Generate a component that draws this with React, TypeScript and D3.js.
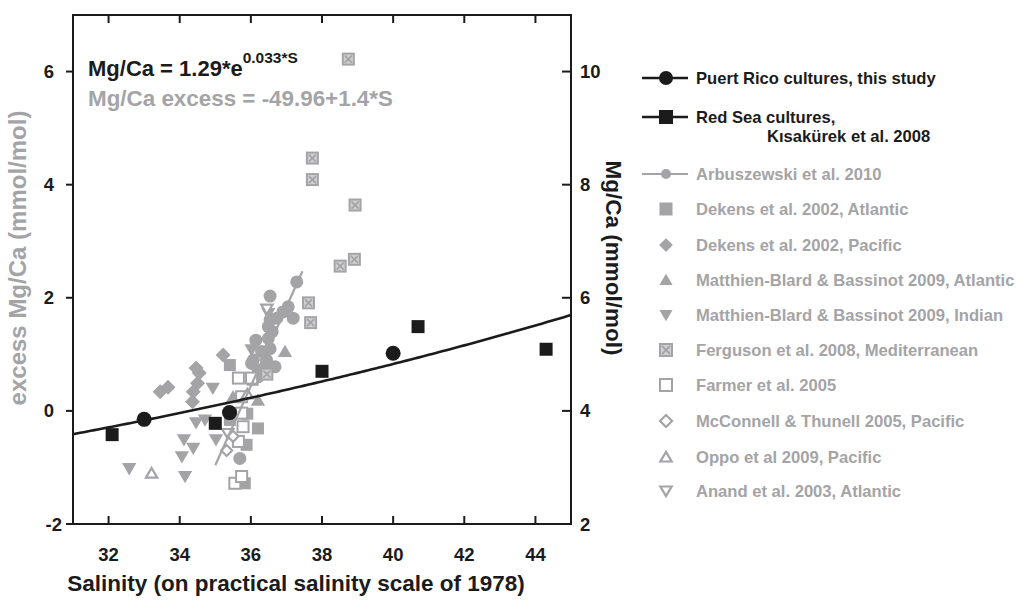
import React from "react";
import * as d3 from "d3";

// ---------- data ----------
const xTicks = [32, 34, 36, 38, 40, 42, 44];
const leftTicks = [-2, 0, 2, 4, 6];
const rightTicks = [2, 4, 6, 8, 10];

// [salinity, excess Mg/Ca]
const puertoRico: [number, number][] = [[33.0, -0.15], [35.4, -0.03], [40.0, 1.02]];
const redSea: [number, number][] = [[32.1, -0.42], [35.0, -0.22], [38.0, 0.7], [40.7, 1.49], [44.3, 1.09]];
const arbuszewski: [number, number][] = [
  [36.54, 2.03], [37.29, 2.28], [37.05, 1.84], [37.19, 1.64], [36.54, 1.61], [36.73, 1.64],
  [36.49, 1.49], [36.14, 1.25], [36.49, 1.28], [36.54, 1.1], [36.07, 0.9], [36.44, 0.9],
  [36.68, 0.78], [35.69, -0.84], [36.3, 1.05], [36.9, 1.75], [36.6, 1.4], [36.2, 0.6],
  [36.35, 0.75], [36.02, 0.84], [36.21, 0.72],
];
const dekensAtl: [number, number][] = [
  [35.41, 0.81], [36.2, -0.31], [35.88, -0.6], [35.83, -1.28], [35.41, -0.16], [36.05, 0.55], [35.9, -0.05],
];
const dekensPac: [number, number][] = [
  [33.45, 0.34], [33.67, 0.42], [34.46, 0.76], [34.55, 0.67], [34.5, 0.49], [34.38, 0.34], [34.36, 0.16], [35.22, 0.99],
];
const matthienAtl: [number, number][] = [[36.96, 1.05], [36.2, 0.19], [35.5, 0.25]];
const matthienInd: [number, number][] = [
  [34.93, 0.4], [34.46, -0.21], [34.71, -0.16], [34.12, -0.51], [34.38, -0.66], [34.06, -0.81],
  [32.58, -1.02], [34.15, -1.16], [35.02, -0.51], [36.49, 1.72], [36.02, 1.08],
];
const ferguson: [number, number][] = [
  [38.74, 6.22], [37.73, 4.47], [37.73, 4.09], [38.93, 3.64], [38.51, 2.56], [38.91, 2.68],
  [37.62, 1.91], [37.68, 1.56], [36.45, 0.65],
];
const farmer: [number, number][] = [
  [35.65, 0.58], [35.74, 0.25], [35.74, -0.04], [35.78, -0.28], [35.65, -0.54], [35.55, -1.28], [35.74, -1.16], [36.02, 0.58],
];
const mcconnell: [number, number][] = [[35.32, -0.7], [35.5, -0.45]];
const oppo: [number, number][] = [[33.21, -1.1], [35.9, 0.3]];
const anand: [number, number][] = [[36.45, 1.8], [35.35, -0.4]];

const legendLabels = [
  "Puert Rico cultures, this study",
  "Red Sea cultures,",
  "Arbuszewski et al. 2010",
  "Dekens et al. 2002, Atlantic",
  "Dekens et al. 2002, Pacific",
  "Matthien-Blard & Bassinot 2009, Atlantic",
  "Matthien-Blard & Bassinot 2009, Indian",
  "Ferguson et al. 2008, Mediterranean",
  "Farmer et al. 2005",
  "McConnell & Thunell 2005, Pacific",
  "Oppo et al 2009, Pacific",
  "Anand et al. 2003, Atlantic",
];

// fit parameters
const expA = 1.29;
const expB = 0.033;
const linA = -49.96;
const linB = 1.4;
const linRange = [35.0, 37.45];

// ---------- styling ----------
const GREY = "#a4a4a7";
const BLACK = "#1b1b1b";
const FONT = "'Liberation Sans', Arial, Helvetica, sans-serif";

type Shape = "circle" | "square" | "diamond" | "triUp" | "triDown" | "boxX" | "oSquare" | "oDiamond" | "oTriUp" | "oTriDown";

function Marker({ cx, cy, shape, color, size }: { cx: number; cy: number; shape: Shape; color: string; size: number }) {
  const h = size / 2;
  switch (shape) {
    case "circle":
      return <circle cx={cx} cy={cy} r={h} fill={color} />;
    case "square":
      return <rect x={cx - h} y={cy - h} width={size} height={size} fill={color} />;
    case "diamond": {
      const d = h * 1.25;
      return <path d={`M${cx},${cy - d}L${cx + d},${cy}L${cx},${cy + d}L${cx - d},${cy}Z`} fill={color} />;
    }
    case "triUp":
      return <path d={`M${cx},${cy - h * 1.05}L${cx + h * 1.1},${cy + h * 0.85}L${cx - h * 1.1},${cy + h * 0.85}Z`} fill={color} />;
    case "triDown":
      return <path d={`M${cx},${cy + h * 1.05}L${cx + h * 1.1},${cy - h * 0.85}L${cx - h * 1.1},${cy - h * 0.85}Z`} fill={color} />;
    case "boxX": {
      const s = h - 1;
      return (
        <g>
          <rect x={cx - s} y={cy - s} width={2 * s} height={2 * s} fill="#cfcfd1" stroke={color} strokeWidth={2} />
          <path d={`M${cx - s + 2},${cy - s + 2}L${cx + s - 2},${cy + s - 2}M${cx + s - 2},${cy - s + 2}L${cx - s + 2},${cy + s - 2}`} stroke={color} strokeWidth={1.8} />
        </g>
      );
    }
    case "oSquare": {
      const s = h - 1;
      return <rect x={cx - s} y={cy - s} width={2 * s} height={2 * s} fill="white" stroke={color} strokeWidth={2} />;
    }
    case "oDiamond": {
      const d = h * 1.1;
      return <path d={`M${cx},${cy - d}L${cx + d},${cy}L${cx},${cy + d}L${cx - d},${cy}Z`} fill="white" stroke={color} strokeWidth={2.2} />;
    }
    case "oTriUp":
      return <path d={`M${cx},${cy - h * 0.85}L${cx + h * 0.95},${cy + h * 0.75}L${cx - h * 0.95},${cy + h * 0.75}Z`} fill="white" stroke={color} strokeWidth={2.2} />;
    case "oTriDown":
      return <path d={`M${cx},${cy + h * 0.85}L${cx + h * 0.95},${cy - h * 0.75}L${cx - h * 0.95},${cy - h * 0.75}Z`} fill="white" stroke={color} strokeWidth={2.2} />;
  }
  return null;
}

export default function App() {
  const W = 1022, H = 600;
  const x = d3.scaleLinear().domain([31, 45]).range([73, 571]);
  const yL = d3.scaleLinear().domain([-2, 7]).range([524, 15]);
  const yR = d3.scaleLinear().domain([2, 11]).range([524, 15]);
  const [x0, x1] = x.range();
  const [yb, yt] = yL.range();

  const curveS = d3.range(31, 45.001, 0.1);
  const curve = d3.line<number>().x((s) => x(s)).y((s) => yR(expA * Math.exp(expB * s)))(curveS) || "";
  const linLine = d3.line<number>().x((s) => x(s)).y((s) => yL(linA + linB * s))(linRange) || "";

  const series: { data: [number, number][]; shape: Shape; size: number }[] = [
    { data: dekensPac, shape: "diamond", size: 12 },
    { data: matthienInd, shape: "triDown", size: 13 },
    { data: dekensAtl, shape: "square", size: 12 },
    { data: arbuszewski, shape: "circle", size: 13 },
    { data: matthienAtl, shape: "triUp", size: 13 },
    { data: anand, shape: "oTriDown", size: 12 },
    { data: farmer, shape: "oSquare", size: 13 },
    { data: mcconnell, shape: "oDiamond", size: 10 },
    { data: oppo, shape: "oTriUp", size: 12 },
    { data: ferguson, shape: "boxX", size: 13 },
  ];

  const legendShapes: { shape: Shape; color: string; line: boolean; size: number }[] = [
    { shape: "circle", color: BLACK, line: true, size: 14 },
    { shape: "square", color: BLACK, line: true, size: 14 },
    { shape: "circle", color: GREY, line: true, size: 10 },
    { shape: "square", color: GREY, line: false, size: 13 },
    { shape: "diamond", color: GREY, line: false, size: 11 },
    { shape: "triUp", color: GREY, line: false, size: 12 },
    { shape: "triDown", color: GREY, line: false, size: 12 },
    { shape: "boxX", color: GREY, line: false, size: 14 },
    { shape: "oSquare", color: GREY, line: false, size: 14 },
    { shape: "oDiamond", color: GREY, line: false, size: 11 },
    { shape: "oTriUp", color: GREY, line: false, size: 12 },
    { shape: "oTriDown", color: GREY, line: false, size: 12 },
  ];
  const legendY = [78, 117, 174, 209, 245, 280, 315, 350, 385, 421, 457, 491];

  return (
    <svg width={W} height={H} style={{ position: "absolute", left: 0, top: 0, background: "white" }} fontFamily={FONT}>
      {/* grey data */}
      {series.map((s, i) => (
        <g key={i}>
          {s.data.map((d, j) => (
            <Marker key={j} cx={x(d[0])} cy={yL(d[1])} shape={s.shape} color={GREY} size={s.size} />
          ))}
        </g>
      ))}
      <path d={linLine} stroke={GREY} strokeWidth={2.2} fill="none" />
      <path d={curve} stroke={BLACK} strokeWidth={2.6} fill="none" />
      {redSea.map((d, j) => (
        <Marker key={"r" + j} cx={x(d[0])} cy={yL(d[1])} shape="square" color={BLACK} size={13} />
      ))}
      {puertoRico.map((d, j) => (
        <Marker key={"p" + j} cx={x(d[0])} cy={yL(d[1])} shape="circle" color={BLACK} size={15} />
      ))}

      {/* frame */}
      <rect x={x0} y={yt} width={x1 - x0} height={yb - yt} fill="none" stroke={BLACK} strokeWidth={2} />
      {xTicks.map((t) => (
        <g key={"xt" + t}>
          <line x1={x(t)} x2={x(t)} y1={yb} y2={yb - 8} stroke={BLACK} strokeWidth={2} />
          <line x1={x(t)} x2={x(t)} y1={yt} y2={yt + 8} stroke={BLACK} strokeWidth={2} />
          <text x={x(t)} y={yb + 37} textAnchor="middle" fontSize={18.5} fontWeight="bold" fill={BLACK}>{t}</text>
        </g>
      ))}
      {leftTicks.map((t) => (
        <g key={"yl" + t}>
          <line x1={x0 - 7} x2={x0} y1={yL(t)} y2={yL(t)} stroke={BLACK} strokeWidth={2} />
          <text x={t === -2 ? x0 - 11 : x0 - 19} y={yL(t) + 6.5} textAnchor="end" fontSize={18.5} fontWeight="bold" fill={BLACK}>{t}</text>
        </g>
      ))}
      {rightTicks.map((t) => (
        <g key={"yr" + t}>
          <line x1={x1 - 9} x2={x1} y1={yR(t)} y2={yR(t)} stroke={BLACK} strokeWidth={2} />
          <text x={x1 + 9} y={yR(t) + 6.5} textAnchor="start" fontSize={18.5} fontWeight="bold" fill={BLACK}>{t}</text>
        </g>
      ))}

      {/* axis titles */}
      <text x={296} y={591} textAnchor="middle" fontSize={22.5} fontWeight="bold" fill={BLACK}>
        Salinity (on practical salinity scale of 1978)
      </text>
      <text transform={`translate(26,258) rotate(-90)`} textAnchor="middle" fontSize={24} fill={GREY} fontWeight="bold">
        excess Mg/Ca (mmol/mol)
      </text>
      <text transform={`translate(606,258) rotate(90)`} textAnchor="middle" fontSize={22.5} fontWeight="bold" fill={BLACK}>
        Mg/Ca (mmol/mol)
      </text>

      {/* equations */}
      <text x={88} y={76} fontSize={22} fontWeight="bold" fill={BLACK}>
        Mg/Ca = 1.29*e
        <tspan dy={-13} fontSize={15.5}>0.033*S</tspan>
      </text>
      <text x={88} y={106} fontSize={22.4} fontWeight="bold" fill={GREY}>
        Mg/Ca excess = -49.96+1.4*S
      </text>

      {/* legend */}
      {legendShapes.map((l, i) => (
        <g key={"lg" + i}>
          {l.line && <line x1={642} x2={688} y1={legendY[i]} y2={legendY[i]} stroke={l.color} strokeWidth={i < 2 ? 2.6 : 2} />}
          <Marker cx={666} cy={legendY[i]} shape={l.shape} color={l.color} size={l.size} />
          <text x={696} y={legendY[i] + 6} fontSize={16.6} fontWeight="bold" fill={i < 2 ? BLACK : GREY}>
            {legendLabels[i]}
          </text>
        </g>
      ))}
      <text x={767} y={142} fontSize={16.6} fontWeight="bold" fill={BLACK}>Kısakürek et al. 2008</text>
    </svg>
  );
}
